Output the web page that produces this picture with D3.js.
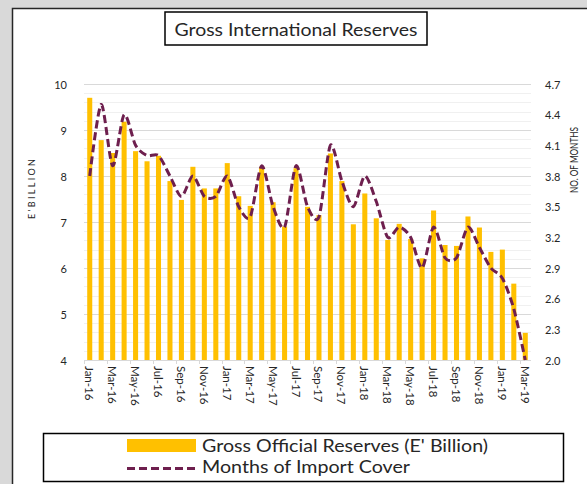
<!DOCTYPE html>
<html>
<head>
<meta charset="utf-8">
<script src="https://cdn.jsdelivr.net/npm/d3@7/dist/d3.min.js"></script>
<style>
  html, body { margin: 0; padding: 0; background: #d9d9d9; }
  svg { display: block; }
  text { font-family: Lato, "Open Sans", sans-serif; }
</style>
</head>
<body>
<svg id="chart" width="587" height="484"></svg>
<script>
// Monthly categories, Jan-16 .. Mar-19
const months = [
  "Jan-16","Feb-16","Mar-16","Apr-16","May-16","Jun-16","Jul-16","Aug-16","Sep-16","Oct-16","Nov-16","Dec-16",
  "Jan-17","Feb-17","Mar-17","Apr-17","May-17","Jun-17","Jul-17","Aug-17","Sep-17","Oct-17","Nov-17","Dec-17",
  "Jan-18","Feb-18","Mar-18","Apr-18","May-18","Jun-18","Jul-18","Aug-18","Sep-18","Oct-18","Nov-18","Dec-18",
  "Jan-19","Feb-19","Mar-19"
];

// Gross official reserves, E' billion
const reserves = [
  9.70, 8.78, 8.50, 9.18, 8.54, 8.32, 8.44, 7.89, 7.48, 8.20, 7.73, 7.73,
  8.28, 7.56, 7.35, 8.20, 7.43, 6.90, 8.17, 7.33, 7.15, 8.49, 7.89, 6.95,
  7.62, 7.08, 6.61, 6.96, 6.63, 6.21, 7.25, 6.50, 6.48, 7.12, 6.88, 6.35,
  6.40, 5.66, 4.59
];

// Months of import cover
const importCover = [
  3.8, 4.5, 3.9, 4.4, 4.1, 4.0, 4.0, 3.8, 3.6, 3.8, 3.6, 3.6,
  3.8, 3.5, 3.4, 3.9, 3.5, 3.3, 3.9, 3.5, 3.4, 4.1, 3.75, 3.5,
  3.8, 3.55, 3.2, 3.3, 3.2, 2.9, 3.3, 3.0, 3.0, 3.3, 3.1, 2.9,
  2.8, 2.5, 2.0
];

const leftTicks = [4, 5, 6, 7, 8, 9, 10];
const rightTicks = [2.0, 2.3, 2.6, 2.9, 3.2, 3.5, 3.8, 4.1, 4.4, 4.7];

const titleText = "Gross International Reserves";
const leftAxisTitle = "E'BILLION";
const rightAxisTitle = "NO. OF MONTHS";
const legendLabels = ["Gross Official Reserves (E' Billion)", "Months of Import Cover"];

const barColor = "#FFC000";
const lineColor = "#6E1F4E";
const textColor = "#262626";

const svg = d3.select("#chart");

// chart panel
svg.append("rect")
  .attr("x", 12.5).attr("y", 8.5)
  .attr("width", 620).attr("height", 520)
  .attr("fill", "#ffffff")
  .attr("stroke", "#262626").attr("stroke-width", 1.5);

const plot = { left: 84, right: 531, top: 84, bottom: 360 };

const x = d3.scaleBand()
  .domain(months)
  .range([plot.left, plot.right])
  .paddingInner(0.56)
  .paddingOuter(0.28);

const yL = d3.scaleLinear().domain([4, 10]).range([plot.bottom, plot.top]);
const yR = d3.scaleLinear().domain([2.0, 4.7]).range([plot.bottom, plot.top]);

// minor gridlines (every 0.2)
const minor = d3.range(4, 10.001, 0.2).filter(v => Math.abs(v - Math.round(v)) > 1e-6);
svg.append("g").selectAll("line").data(minor).join("line")
  .attr("x1", plot.left).attr("x2", plot.right)
  .attr("y1", d => Math.round(yL(d)) + 0.5).attr("y2", d => Math.round(yL(d)) + 0.5)
  .attr("stroke", "#f0f0f0").attr("stroke-width", 1);

// major gridlines
svg.append("g").selectAll("line").data(leftTicks).join("line")
  .attr("x1", plot.left).attr("x2", plot.right)
  .attr("y1", d => Math.round(yL(d)) + 0.5).attr("y2", d => Math.round(yL(d)) + 0.5)
  .attr("stroke", "#d9d9d9").attr("stroke-width", 1.2);

// bars
svg.append("g").selectAll("rect").data(months).join("rect")
  .attr("x", d => x(d))
  .attr("width", x.bandwidth())
  .attr("y", (d, i) => yL(reserves[i]))
  .attr("height", (d, i) => yL(4) - yL(reserves[i]))
  .attr("fill", barColor);

// category axis line + ticks
const step = x.step();
svg.append("line")
  .attr("x1", plot.left).attr("x2", plot.right)
  .attr("y1", plot.bottom + 0.5).attr("y2", plot.bottom + 0.5)
  .attr("stroke", "#d9d9d9").attr("stroke-width", 1.2);

const labelled = months.filter((d, i) => i % 2 === 0);
svg.append("g").selectAll("line").data(labelled).join("line")
  .attr("x1", d => Math.round(x(d) - step * 0.28) + 0.5)
  .attr("x2", d => Math.round(x(d) - step * 0.28) + 0.5)
  .attr("y1", plot.bottom).attr("y2", plot.bottom + 4)
  .attr("stroke", "#d9d9d9").attr("stroke-width", 1);

svg.append("g").selectAll("text").data(labelled).join("text")
  .attr("transform", d => `translate(${x(d) + x.bandwidth() / 2},${plot.bottom + 6}) rotate(90)`)
  .attr("dominant-baseline", "central")
  .attr("font-size", 11.5)
  .attr("fill", textColor)
  .text(d => d);

// import cover line (smoothed, dashed)
const line = d3.line()
  .x((d, i) => x(months[i]) + x.bandwidth() / 2)
  .y(d => yR(d))
  .curve(d3.curveCardinal.tension(0.2));

svg.append("path")
  .datum(importCover)
  .attr("d", line)
  .attr("fill", "none")
  .attr("stroke", lineColor)
  .attr("stroke-width", 3)
  .attr("stroke-dasharray", "8,4");

// left axis labels
svg.append("g").selectAll("text").data(leftTicks).join("text")
  .attr("x", 67).attr("y", d => yL(d))
  .attr("text-anchor", "end").attr("dominant-baseline", "central")
  .attr("font-size", 11).attr("fill", textColor)
  .text(d => d);

// right axis labels
svg.append("g").selectAll("text").data(rightTicks).join("text")
  .attr("x", 545).attr("y", d => yR(d))
  .attr("dominant-baseline", "central")
  .attr("font-size", 11).attr("fill", textColor)
  .text(d => d.toFixed(1));

// axis titles
svg.append("text")
  .attr("transform", "translate(31,189) rotate(-90)")
  .attr("text-anchor", "middle").attr("dominant-baseline", "central")
  .attr("font-size", 9).attr("fill", textColor)
  .attr("textLength", 60).attr("lengthAdjust", "spacing")
  .text(leftAxisTitle);

svg.append("text")
  .attr("transform", "translate(573,160) rotate(-90)")
  .attr("text-anchor", "middle").attr("dominant-baseline", "central")
  .attr("font-size", 11.5).attr("fill", textColor)
  .attr("textLength", 66).attr("lengthAdjust", "spacingAndGlyphs")
  .text(rightAxisTitle);

// title box
svg.append("rect")
  .attr("x", 165).attr("y", 12)
  .attr("width", 262).attr("height", 33)
  .attr("fill", "#ffffff")
  .attr("stroke", "#000000").attr("stroke-width", 1.5);
svg.append("text")
  .attr("x", 296).attr("y", 29)
  .attr("text-anchor", "middle").attr("dominant-baseline", "central")
  .attr("font-size", 17).attr("fill", textColor)
  .attr("textLength", 243).attr("lengthAdjust", "spacingAndGlyphs")
  .text(titleText);

// legend
const lg = svg.append("g");
lg.append("rect")
  .attr("x", 43.5).attr("y", 433.5)
  .attr("width", 520).attr("height", 48)
  .attr("fill", "#ffffff")
  .attr("stroke", "#000000").attr("stroke-width", 1.5);
lg.append("rect")
  .attr("x", 127).attr("y", 439)
  .attr("width", 69).attr("height", 13)
  .attr("fill", barColor);
lg.append("text")
  .attr("x", 202).attr("y", 446)
  .attr("dominant-baseline", "central")
  .attr("font-size", 16.5).attr("fill", textColor)
  .attr("textLength", 286).attr("lengthAdjust", "spacingAndGlyphs")
  .text(legendLabels[0]);
lg.append("line")
  .attr("x1", 127).attr("x2", 196)
  .attr("y1", 468.5).attr("y2", 468.5)
  .attr("stroke", lineColor).attr("stroke-width", 3)
  .attr("stroke-dasharray", "8,4");
lg.append("text")
  .attr("x", 202).attr("y", 467)
  .attr("dominant-baseline", "central")
  .attr("font-size", 16.5).attr("fill", textColor)
  .attr("textLength", 208).attr("lengthAdjust", "spacingAndGlyphs")
  .text(legendLabels[1]);
</script>
</body>
</html>
